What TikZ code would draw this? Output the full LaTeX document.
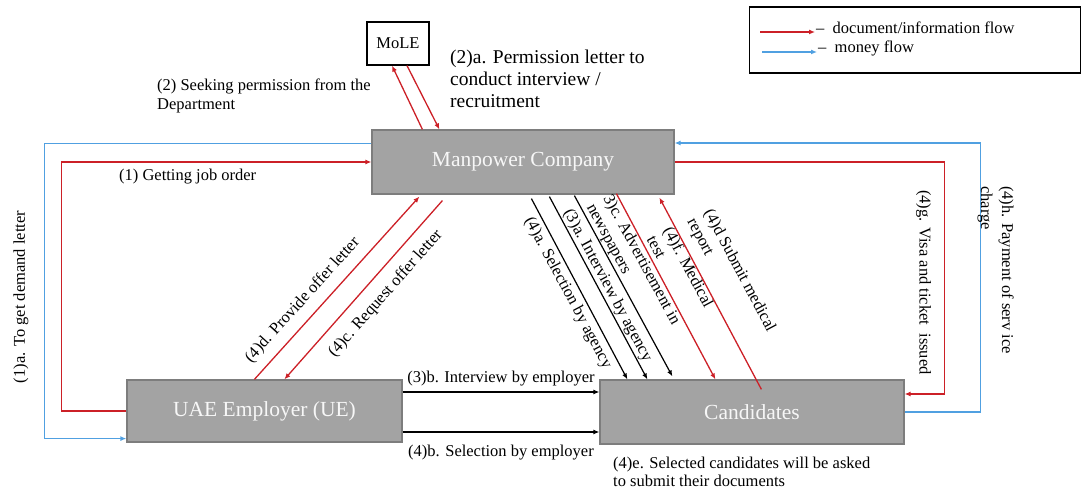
\documentclass[tikz,border=0pt]{standalone}
\usepackage{fontspec}
\setmainfont{Liberation Serif}
\usetikzlibrary{arrows.meta}
\definecolor{flowred}{RGB}{204,32,39}
\definecolor{flowblue}{RGB}{80,160,225}
\definecolor{boxgray}{RGB}{163,163,163}
\definecolor{boxline}{RGB}{125,125,125}
\tikzset{
	box/.style={draw=boxline,line width=1.2pt,fill=boxgray,text=white!94!gray,font=\fontsize{21.5}{24}\selectfont},
	lbl/.style={font=\fontsize{16.5}{19}\selectfont,inner sep=1pt},
	redflow/.style={draw=flowred,line width=1.3pt,-{Latex[length=6pt,width=5pt]}},
	blueflow/.style={draw=flowblue,line width=1.2pt,-{Latex[length=6pt,width=5pt]}},
	blackflow/.style={draw=black,line width=1.2pt,-{Latex[length=6pt,width=5pt]}}
}

\begin{document}
\begin{tikzpicture}[x=1pt,y=-1pt]
				\useasboundingbox (0,0) rectangle (1083,494);

				\node[box,minimum width=302pt,minimum height=64pt] (mp) at (523,162) {Manpower Company};
				\node[box,minimum width=275pt,minimum height=62pt] (ue) at (264.5,411) {UAE Employer (UE)};
				\node[box,minimum width=304pt,minimum height=64pt] (cand) at (752,412) {Candidates};
				\node[draw,line width=1.2pt,fill=white,minimum width=62pt,minimum height=43pt,font=\fontsize{16.5}{19}\selectfont] (mole) at (398,43.5) {MoLE};

				% legend
				\node[draw,line width=1.2pt,minimum width=331pt,minimum height=66pt] (legend) at (915,40) {};
				\coordinate (lr) at (760,32);
				\coordinate (lb) at (762,52);
				\draw[redflow] (lr) -- ++(55,0) coordinate (lre);
				\draw[blueflow] (lb) -- ++(55,0) coordinate (lbe);
				\node[lbl,anchor=west] (lrt) at ([yshift=4pt]lre) {\textendash~~document/information flow};
				\node[lbl,anchor=west] (lbt) at ([yshift=4pt]lbe) {\textendash~~money flow};

				% MoLE
				\draw[redflow] ([xshift=51pt]mp.north west) -- ([xshift=-6pt]mole.south);
				\draw[redflow] ([xshift=9pt]mole.south) -- ([xshift=68pt]mp.north west);
				\node[lbl,anchor=north west,align=left] (seek) at (156,78) {(2) Seeking permission from the\\Department};
				\node[lbl,font=\fontsize{19.5}{22}\selectfont,anchor=north west,align=left] (perm) at (449,49) {(2)a. Permission letter to\\conduct interview /\\recruitment};

				% left loops
				\draw[redflow] (ue.west) -- ++(-65,0) |- (mp.west);
				\draw[blueflow] ([yshift=-14pt]mp.north west) -- ++(-327,0) |- ([yshift=4pt]ue.south west);
				\node[lbl,anchor=west] (job) at (118,177) {(1) Getting job order};
				\node[lbl,rotate=90] (demand) at (21,297) {(1)a. To get demand letter};

				% right loops
				\draw[redflow] (mp.east) -- ++(270,0) |- ([yshift=18pt]cand.east);
				\draw[blueflow] (cand.east) -- ++(76,0) |- ([yshift=19pt]mp.east);
				\node[lbl,rotate=-90] (visa) at (923.5,282.5) {(4)g. Visa and ticket\ \ issued};
				\node[lbl,font=\fontsize{16.5}{21}\selectfont,rotate=-90,anchor=north west,align=left,inner sep=0pt] (pay) at (1014,186) {(4)h. Payment of serv ice\\charge};

				% employer - candidates
				\coordinate (ib) at ([yshift=19pt]ue.east);
				\coordinate (sb) at ([yshift=-21pt]ue.east);
				\draw[blackflow] (ib) -- (ib -| cand.west) node[lbl,midway,above=4pt] {(3)b. Interview by employer};
				\draw[blackflow] (sb) -- (sb -| cand.west) node[lbl,midway,below=11pt] {(4)b. Selection by employer};

				% employer - manpower
				\draw[redflow] ([xshift=128pt]ue.north west) -- ([xshift=48pt,yshift=-2pt]mp.south west) node[lbl,pos=0.37,sloped,above=8pt] {(4)d. Provide offer letter};
				\draw[redflow] ([xshift=71pt,yshift=-6pt]mp.south west) -- ([xshift=158pt]ue.north west) node[lbl,pos=0.45,sloped,below=10pt] {(4)c. Request offer letter};

				% manpower - candidates
				\draw[blackflow] ([xshift=160pt,yshift=-4pt]mp.south west) -- ([xshift=28pt]cand.north west) node[lbl,pos=0.49,sloped,below=3pt] {(4)a. Selection by agency};
				\draw[blackflow] ([xshift=178pt,yshift=-2pt]mp.south west) -- ([xshift=48pt]cand.north west) node[lbl,pos=0.51,sloped,above=0pt] {(3)a. Interview by agency};
				\draw[blackflow] ([xshift=203pt,yshift=-1pt]mp.south west) -- ([xshift=73pt,yshift=3pt]cand.north west) node[lbl,pos=0.43,sloped,above=0pt,align=left] {3)c. Advertisement in\\newspapers};
				\draw[redflow] ([xshift=245pt,yshift=1pt]mp.south west) -- ([xshift=116pt]cand.north west) node[lbl,pos=0.47,sloped,above=3pt,align=left] {(4)f. Medical\\test};
				\draw[redflow] ([xshift=162pt,yshift=-10pt]cand.north west) -- ([xshift=288pt,yshift=-3pt]mp.south west) node[lbl,pos=0.53,sloped,above=8pt,align=left] {(4)d Submit medical\\report};

				\node[lbl,font=\fontsize{16.5}{18}\selectfont,anchor=north west,align=left] (sel) at (612,456) {(4)e. Selected candidates will be asked\\to submit their documents};
\end{tikzpicture}
\end{document}
